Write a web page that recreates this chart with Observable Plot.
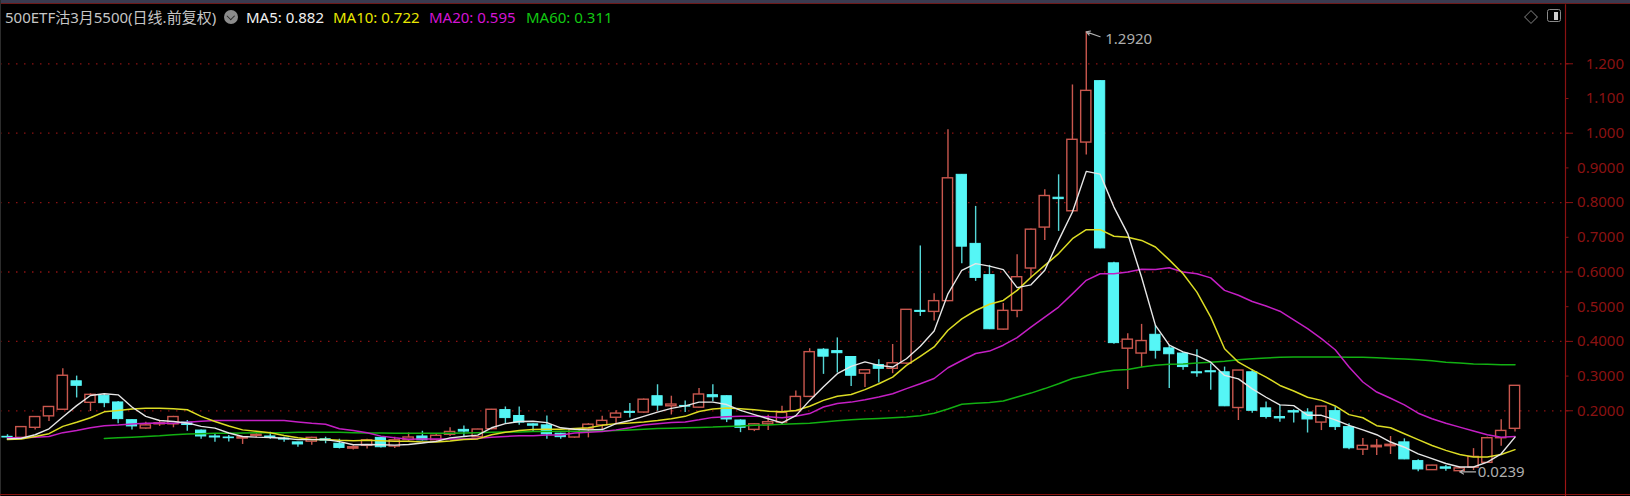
<!DOCTYPE html>
<html><head><meta charset="utf-8">
<script src="https://cdn.jsdelivr.net/npm/d3@7"></script>
<script src="https://cdn.jsdelivr.net/npm/@observablehq/plot@0.6"></script>
<style>
html,body{margin:0;padding:0;background:#000;overflow:hidden}
#wrap{position:relative;width:1630px;height:496px;background:#000}
#wrap svg{display:block;position:absolute;left:0;top:0}
.hd{position:absolute;top:6px;font:15px/22px "Noto Sans","Noto Sans CJK SC",sans-serif;white-space:nowrap}
#strip{position:absolute;left:0;top:0;width:1630px;height:3px;background:#3b3b50;border-bottom:1.5px solid #6e1a1a}
#leftedge{position:absolute;left:0;top:0;width:1px;height:496px;background:#2c2c2c}
#foot{position:absolute;left:0;top:494px;width:1630px;height:1px;background:#8a1010}
#axisLow{position:absolute;left:1564.5px;top:480px;width:1.5px;height:16px;background:#a01515}
#chev{position:absolute;left:224px;top:10px;width:14px;height:14px;border-radius:50%;background:#8c8c8c}
#chev:after{content:"";position:absolute;left:4px;top:2.5px;width:4.5px;height:4.5px;border-right:1.5px solid #222;border-bottom:1.5px solid #222;transform:rotate(45deg)}
#dia{position:absolute;left:1525.5px;top:11.5px;width:8px;height:8px;border:1px solid #666;transform:rotate(45deg)}
#pan{position:absolute;left:1546.5px;top:9px;width:12px;height:11px;border:1.5px solid #8a8a8a;border-radius:2.5px}
#pan:after{content:"";position:absolute;right:1.5px;top:1.5px;width:4px;height:8px;background:#cfcfcf}
</style></head><body>
<div id="wrap"></div>
<script>
const open=[.125,.122,.151,.184,.203,.285,.223,.243,.224,.173,
.149,.161,.161,.166,.143,.126,.123,.120,.128,.126,
.120,.109,.111,.118,.105,.091,.099,.122,.097,.116,
.126,.115,.131,.145,.124,.147,.202,.185,.161,.158,
.134,.123,.147,.158,.180,.197,.195,.242,.213,.214,
.209,.245,.242,.172,.145,.161,.166,.199,.240,.376,
.372,.355,.307,.332,.321,.336,.488,.485,.516,.880,
.681,.591,.434,.488,.610,.728,.814,.775,.973,1.150,
.625,.379,.365,.419,.380,.365,.311,.314,.311,.208,
.311,.207,.182,.199,.195,.166,.199,.153,.088,.095,
.098,.109,.055,.029,.037,.026,.036,.050,.121,.148];
const close=[.123,.153,.182,.211,.301,.272,.246,.222,.176,.155,
.158,.164,.182,.159,.126,.123,.121,.124,.131,.123,
.117,.103,.122,.114,.093,.095,.115,.095,.115,.123,
.115,.128,.139,.140,.146,.203,.179,.166,.157,.132,
.124,.145,.160,.171,.192,.194,.232,.215,.218,.212,
.247,.239,.175,.151,.161,.167,.194,.240,.369,.356,
.366,.301,.317,.321,.337,.491,.485,.516,.870,.673,
.583,.435,.488,.585,.722,.819,.810,.981,1.122,.668,
.395,.405,.401,.373,.363,.326,.308,.311,.213,.316,
.200,.182,.178,.195,.175,.212,.153,.092,.099,.099,
.102,.060,.031,.042,.033,.034,.067,.121,.142,.272];
const high=[.131,.153,.182,.212,.321,.300,.249,.249,.227,.174,
.167,.172,.184,.172,.145,.134,.129,.126,.136,.138,
.124,.109,.124,.124,.118,.099,.118,.124,.124,.136,
.141,.132,.151,.156,.147,.204,.211,.211,.163,.185,
.135,.147,.163,.184,.200,.221,.234,.275,.242,.228,
.264,.275,.243,.174,.163,.187,.213,.257,.379,.379,
.410,.356,.317,.347,.391,.491,.675,.537,1.010,.881,
.789,.619,.509,.650,.724,.837,.880,1.139,1.292,1.151,
.628,.422,.449,.446,.389,.367,.376,.335,.326,.316,
.318,.225,.215,.203,.206,.213,.211,.163,.120,.117,
.126,.119,.059,.043,.042,.038,.091,.124,.174,.273];
const low=[.116,.119,.145,.169,.201,.237,.198,.209,.163,.145,
.147,.155,.151,.141,.118,.109,.110,.103,.122,.118,
.109,.095,.101,.105,.090,.087,.090,.093,.091,.112,
.113,.113,.126,.124,.122,.145,.161,.158,.139,.118,
.118,.121,.122,.145,.163,.179,.193,.199,.188,.195,
.207,.226,.166,.137,.140,.143,.165,.197,.238,.305,
.309,.270,.267,.280,.307,.334,.472,.459,.514,.624,
.573,.434,.432,.468,.583,.691,.717,.774,.937,.667,
.392,.261,.324,.349,.264,.317,.297,.259,.212,.172,
.193,.176,.167,.165,.136,.143,.143,.088,.071,.071,
.074,.059,.024,.028,.026,.0239,.028,.049,.098,.139];
const ma5=[.119,.121,.131,.148,.182,.215,.244,.249,.246,.211,
.184,.172,.169,.165,.155,.150,.136,.126,.124,.123,
.121,.117,.117,.117,.111,.102,.103,.102,.101,.103,
.107,.112,.122,.126,.130,.151,.163,.169,.170,.166,
.151,.147,.145,.146,.163,.172,.184,.196,.207,.214,
.225,.225,.218,.201,.189,.177,.165,.186,.230,.269,
.307,.328,.341,.331,.326,.350,.386,.430,.537,.605,
.624,.617,.607,.555,.563,.605,.691,.773,.890,.882,
.787,.710,.585,.446,.389,.370,.359,.340,.302,.292,
.263,.239,.217,.215,.187,.187,.174,.158,.145,.131,
.110,.095,.076,.062,.048,.038,.038,.052,.076,.124];
const ma10=[.117,.119,.126,.134,.155,.167,.180,.197,.201,.205,
.207,.207,.206,.203,.184,.169,.156,.145,.141,.137,
.129,.122,.117,.117,.115,.114,.115,.114,.112,.112,
.110,.110,.113,.117,.119,.131,.138,.143,.146,.147,
.147,.149,.151,.158,.163,.165,.168,.172,.177,.184,
.198,.205,.208,.206,.203,.199,.197,.201,.213,.230,
.242,.247,.261,.278,.297,.331,.357,.384,.432,.465,
.489,.507,.518,.547,.585,.619,.653,.696,.722,.722,
.703,.700,.691,.672,.635,.595,.542,.470,.379,.340,
.318,.297,.273,.257,.239,.230,.214,.189,.180,.157,
.151,.134,.117,.100,.086,.074,.067,.067,.074,.088];
const ma20=[.122,.122,.124,.126,.137,.143,.151,.157,.159,.162,
.164,.165,.164,.167,.170,.172,.172,.172,.172,.172,
.172,.168,.164,.161,.148,.143,.137,.127,.122,.118,
.119,.119,.119,.119,.121,.124,.126,.128,.128,.130,
.130,.136,.138,.140,.145,.151,.159,.163,.166,.168,
.174,.181,.183,.184,.184,.183,.180,.184,.192,.211,
.221,.225,.232,.240,.249,.264,.278,.293,.324,.345,
.365,.372,.389,.411,.441,.470,.499,.537,.576,.595,
.595,.600,.608,.607,.612,.600,.595,.583,.547,.533,
.515,.502,.487,.462,.437,.408,.376,.326,.283,.254,
.236,.217,.193,.177,.164,.153,.142,.131,.124,.126];
const ma60=[null,null,null,null,null,null,null,.120,.122,.124,
.126,.128,.131,.133,.134,.135,.135,.136,.137,.137,
.137,.138,.138,.138,.138,.137,.136,.136,.135,.135,
.135,.135,.135,.136,.137,.138,.139,.139,.140,.140,
.141,.141,.141,.142,.143,.145,.147,.149,.150,.151,
.152,.153,.155,.156,.158,.159,.161,.163,.164,.168,
.171,.174,.176,.178,.180,.182,.186,.193,.205,.219,
.222,.224,.228,.240,.251,.264,.278,.293,.302,.311,
.317,.319,.326,.331,.334,.335,.338,.340,.343,.347,
.350,.352,.354,.355,.355,.355,.355,.354,.354,.353,
.351,.349,.347,.344,.340,.338,.335,.334,.333,.333];

const tickValues=[1.2,1.1,1.0,.9,.8,.7,.6,.5,.4,.3,.2];
const tickLabels=["1.200","1.100","1.000","0.9000","0.8000","0.7000","0.6000","0.5000","0.4000","0.3000","0.2000"];
const gridValues=[1.2,1.0,.8,.6,.4,.2];
const seriesTitle="500ETF沽3月5500(日线.前复权)";
const legend=[["MA5: 0.882","#f0f0f0",246],["MA10: 0.722","#e8e800",333],["MA20: 0.595","#d414d4",429],["MA60: 0.311","#12c812",526]];
const peak={i:78,v:1.292,label:"1.2920"};
const trough={i:105,v:.0239,label:"0.0239"};

const RED="#c9574e",CYAN="#55f6f6",WICK_CYAN="#55d6d6",AXIS="#8a1212",FONT='"Noto Sans",sans-serif';
const candles=open.map((o,i)=>({i,open:o,close:close[i],high:high[i],low:low[i]}));
const up=candles.filter(d=>d.close>d.open), down=candles.filter(d=>d.close<=d.open);
const maRows=(arr)=>arr.map((v,i)=>({i,v}));
const halfBody=.37;

const chart=Plot.plot({
  width:1630,height:496,marginLeft:0,marginRight:65,marginTop:0,marginBottom:0,
  style:{background:"#000"},
  x:{type:"linear",domain:[-.506,112.65],axis:null},
  y:{type:"linear",domain:[-.047,1.3824],range:[496,0],axis:null},
  marks:[
    Plot.gridY(gridValues,{stroke:"#8a1212",strokeOpacity:1,strokeWidth:1.3,strokeDasharray:"1.5 6.5"}),
    Plot.ruleX(down,{x:"i",y1:"low",y2:"high",stroke:WICK_CYAN,strokeWidth:1.4}),
    Plot.ruleX(up,{x:"i",y1:"low",y2:"high",stroke:RED,strokeWidth:1.4}),
    Plot.rect(down,{x1:d=>d.i-halfBody,x2:d=>d.i+halfBody,y1:"open",y2:"close",fill:CYAN,stroke:CYAN,strokeWidth:1}),
    Plot.rect(up,{x1:d=>d.i-halfBody,x2:d=>d.i+halfBody,y1:"open",y2:"close",fill:"#000",stroke:RED,strokeWidth:1.4}),
    Plot.line(maRows(ma60),{x:"i",y:"v",stroke:"#12b012",strokeWidth:1.5}),
    Plot.line(maRows(ma20),{x:"i",y:"v",stroke:"#c41fc4",strokeWidth:1.5}),
    Plot.line(maRows(ma10),{x:"i",y:"v",stroke:"#dcdc24",strokeWidth:1.5}),
    Plot.line(maRows(ma5),{x:"i",y:"v",stroke:"#e6e6e6",strokeWidth:1.4}),
    Plot.arrow([peak],{x1:d=>d.i+1,y1:d=>d.v-.014,x2:"i",y2:"v",stroke:"#b0b0b0",strokeWidth:1.1,headLength:6}),
    Plot.text([peak],{x:"i",y:"v",text:"label",dx:19,dy:7,textAnchor:"start",fill:"#aeaeae",fontSize:15,fontFamily:FONT}),
    Plot.arrow([trough],{x1:d=>d.i+1.15,y1:"v",x2:"i",y2:"v",stroke:"#b0b0b0",strokeWidth:1.1,headLength:6}),
    Plot.text([trough],{x:"i",y:"v",text:"label",dx:18,textAnchor:"start",fill:"#aeaeae",fontSize:15,fontFamily:FONT}),
    Plot.ruleX([112.65],{stroke:AXIS,strokeWidth:1.2,y1:1.37,y2:-.047}),
    Plot.axisY(tickValues,{anchor:"right",tickSize:2.5,tickPadding:56,textAnchor:"end",stroke:AXIS,fill:AXIS,
      color:AXIS,fontSize:15,fontFamily:FONT,label:null,tickFormat:v=>tickLabels[tickValues.indexOf(v)]}),
    Plot.axisY(gridValues,{anchor:"right",tickSize:7,stroke:AXIS,label:null,tickFormat:()=>""})
  ]
});
const wrap=document.getElementById("wrap");
wrap.appendChild(chart);
for(const id of ["strip","leftedge","foot","axisLow","chev","dia","pan"]){
  const e=document.createElement("div");e.id=id;wrap.appendChild(e);
}
const add=(t,c,x)=>{const s=document.createElement("span");s.className="hd";s.textContent=t;s.style.color=c;s.style.left=x+"px";wrap.appendChild(s);};
add(seriesTitle,"#c6c6c6",5);
legend.forEach(([t,c,x])=>add(t,c,x));
</script></body></html>
